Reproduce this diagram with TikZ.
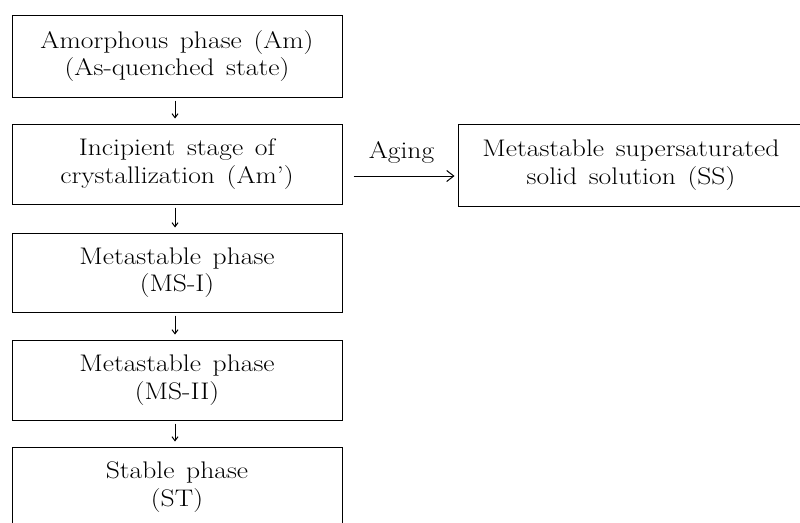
\documentclass[tikz,border=0pt]{standalone}
\usepackage{fontspec}
\usetikzlibrary{arrows.meta}
\newfontfamily\diagfam{Latin Modern Roman}[Ligatures=TeX,FakeStretch=1.15,WordSpace=1.4]
\newcommand{\diagfont}{\diagfam\fontsize{24}{27.5}\selectfont}
\begin{document}
\begin{tikzpicture}[x=1pt,y=-1pt,
  phase/.style={draw, line width=1pt, minimum width=330pt, inner sep=0pt, align=center, font=\diagfont},
  flow/.style={line width=1pt, -{Straight Barb[length=4pt,width=6pt]}, shorten <=3pt, shorten >=5pt},
  txt/.style={font=\diagfont}
]
\useasboundingbox (0,0) rectangle (800,522);
\clip (0,0) rectangle (800,522);
\node[phase, minimum height=82pt] (b1) at (177,56) {Amorphous phase (Am)\\(As-quenched state)};
\node[phase, minimum height=80pt] (b2) at (177,164) {Incipient stage of\\crystallization (Am’)};
\node[phase, minimum height=79pt] (b3) at (177,272.5) {Metastable phase\\(MS-I)};
\node[phase, minimum height=80pt] (b4) at (177,380) {Metastable phase\\(MS-II)};
\node[phase, minimum height=80pt] (b5) at (177,487) {Stable phase\\(ST)};
\node[phase, minimum width=346pt, minimum height=82pt] (ss) at (631,165) {Metastable supersaturated\\solid solution (SS)};
\draw[flow] (b1.south -| 175,0) -- (b2.north -| 175,0);
\draw[flow] (b2.south -| 175,0) -- (b3.north -| 175,0);
\draw[flow] (b3.south -| 175,0) -- (b4.north -| 175,0);
\draw[flow] (b4.south -| 175,0) -- (b5.north -| 175,0);
\coordinate (agA) at ([xshift=11pt,yshift=-12pt]b2.east);
\draw[line width=1pt, -{Straight Barb[length=7pt,width=11pt]}, shorten >=3pt] (agA) -- (agA -| ss.west)
  node[midway, txt, above=9pt, xshift=-4pt] (aging) {Aging};
\end{tikzpicture}
\end{document}
